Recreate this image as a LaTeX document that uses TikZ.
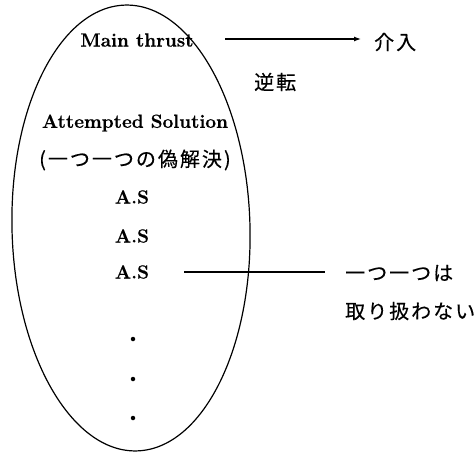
\documentclass[tikz,border=0pt]{standalone}
\usepackage{fontspec}
\newfontfamily\cjk[LetterSpace=10,FakeBold=0.3]{Noto Sans CJK JP}
\newfontfamily\latb[BoldFeatures={FakeBold=0.6}]{Latin Modern Roman}
\usetikzlibrary{arrows.meta}
\begin{document}
\begin{tikzpicture}[x=1pt,y=-1pt,
  lbl/.style={font=\latb\fontsize{19}{22}\selectfont\bfseries, inner sep=0pt},
  jlbl/.style={font=\cjk\fontsize{20}{23}\selectfont, inner sep=0pt},
  dotmark/.style={circle, fill=black, inner sep=0pt, minimum size=4.5pt},
  conn/.style={line width=1.2pt}]
\useasboundingbox (0,0) rectangle (475,455);
\draw[line width=1.2pt, rotate around={1.5:(131,228)}] (131,228) ellipse [x radius=119, y radius=223];
\node[lbl] (mt) at (137,40) {Main thrust};
\node[jlbl, anchor=west] (kai) at (374,42) {介入};
\node[jlbl, anchor=west] (gyaku) at (254,82) {逆転};
\node[lbl] (att) at (135,123) {Attempted Solution};
\node[jlbl, anchor=west] (gi) at (39,160) {(一つ一つの偽解決)};
\node[lbl] (as1) at (132,197) {A.S};
\node[lbl] (as2) at (132,236) {A.S};
\node[lbl] (as3) at (132,272) {A.S};
\node[jlbl, anchor=west] (hi) at (345,273) {一つ一つは};
\node[jlbl, anchor=west] (tori) at (345,311) {取り扱わない};
\node[dotmark] (d1) at (133,339) {};
\node[dotmark] (d2) at (133,379) {};
\node[dotmark] (d3) at (133,418) {};
\coordinate (a0) at (225,39);
\coordinate (a1) at (361,39);
\draw[conn, -{Latex[length=7pt,width=5pt]}] (a0) -- (a1);
\coordinate (b0) at (184,272);
\coordinate (b1) at (325,272);
\draw[conn] (b0) -- (b1);
\end{tikzpicture}
\end{document}
